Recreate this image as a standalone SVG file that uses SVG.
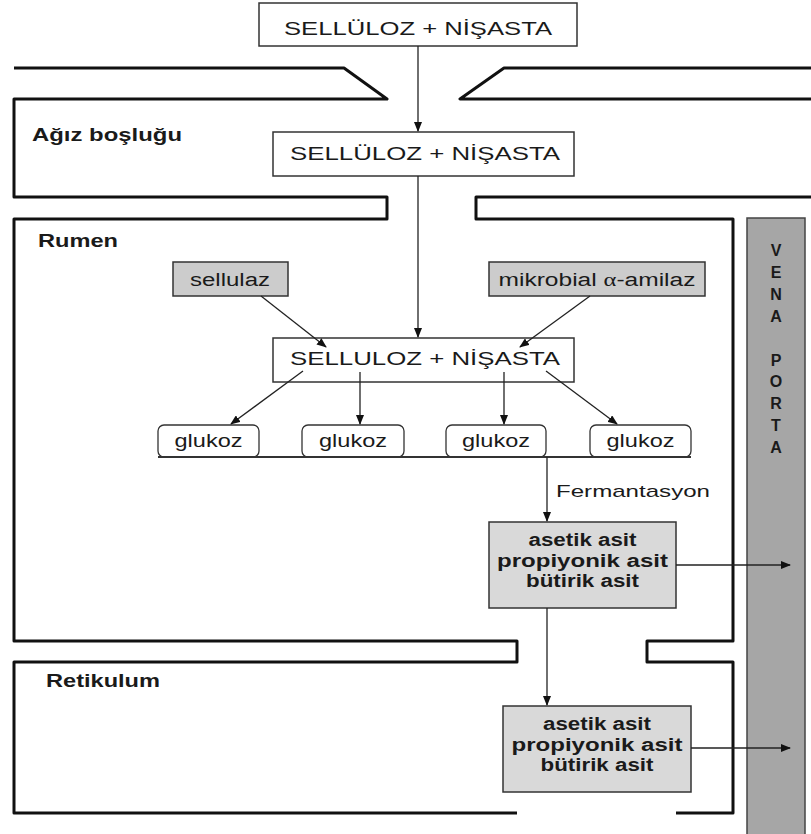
<svg xmlns="http://www.w3.org/2000/svg" width="811" height="834" viewBox="0 0 811 834">
<defs>
<marker id="ah" markerWidth="10" markerHeight="8" refX="9" refY="4" orient="auto" markerUnits="userSpaceOnUse">
<path d="M0,0 L10,4 L0,8 Z" fill="#111"/>
</marker>
<style>
.wall{fill:none;stroke:#111;stroke-width:3;stroke-linejoin:round;stroke-linecap:butt}
.box{fill:#fff;stroke:#333;stroke-width:1.5}
.enz{fill:#cccccc;stroke:#333;stroke-width:1.5}
.acid{fill:#d9d9d9;stroke:#333;stroke-width:1.5}
.glu{fill:#fff;stroke:#333;stroke-width:1.3}
.con{fill:none;stroke:#222;stroke-width:1.3;marker-end:url(#ah)}
.t{font-family:"Liberation Sans",Arial,sans-serif;fill:#1a1a1a}
.big{font-size:18px;text-anchor:middle}
.mid{font-size:18px;text-anchor:middle}
.acidt{font-size:18px;font-weight:bold;text-anchor:middle}
.lab{font-size:18px;font-weight:bold}
.vp{font-size:16px;font-weight:bold;text-anchor:middle}
</style>
</defs>
<rect width="811" height="834" fill="#fff"/>

<g id="walls">
<polyline class="wall" points="14,68 344,68 387,99 14,99 14,197 387,197 387,219 14,219 14,641 517,641 517,662 14,662 14,813 517,813"/>
<polyline class="wall" points="811,68 504,68 460,99 811,99"/>
<polyline class="wall" points="811,197 476,197 476,219 733,219 733,641 647,641 647,662 733,662 733,813 676,813"/>
</g>

<g id="vena-porta">
<rect x="747" y="218" width="58" height="620" fill="#a6a6a6" stroke="#444" stroke-width="1.5"/>
<text class="t vp" x="776" y="256">V</text>
<text class="t vp" x="776" y="278">E</text>
<text class="t vp" x="776" y="300">N</text>
<text class="t vp" x="776" y="322">A</text>
<text class="t vp" x="776" y="366">P</text>
<text class="t vp" x="776" y="387">O</text>
<text class="t vp" x="776" y="409">R</text>
<text class="t vp" x="776" y="431">T</text>
<text class="t vp" x="776" y="453">A</text>
</g>

<g id="labels">
<text class="t lab" x="32" y="141" textLength="150" lengthAdjust="spacingAndGlyphs">Ağız boşluğu</text>
<text class="t lab" x="38" y="247" textLength="80" lengthAdjust="spacingAndGlyphs">Rumen</text>
<text class="t lab" x="46" y="687" font-size="17" textLength="114" lengthAdjust="spacingAndGlyphs">Retikulum</text>
<text class="t" x="556" y="497" font-size="17" textLength="154" lengthAdjust="spacingAndGlyphs">Fermantasyon</text>
</g>

<g id="n-top">
<rect class="box" x="259" y="3" width="318" height="43"/>
<text class="t big" x="418" y="35" textLength="268" lengthAdjust="spacingAndGlyphs">SELLÜLOZ + NİŞASTA</text>
</g>

<g id="n-mouth">
<rect class="box" x="273" y="132" width="301" height="44"/>
<text class="t big" x="425" y="160" textLength="270" lengthAdjust="spacingAndGlyphs">SELLÜLOZ + NİŞASTA</text>
</g>

<g id="n-sellulaz">
<rect class="enz" x="173" y="262" width="115" height="34"/>
<text class="t mid" x="230" y="286" textLength="80" lengthAdjust="spacingAndGlyphs">sellulaz</text>
</g>

<g id="n-amilaz">
<rect class="enz" x="489" y="262" width="216" height="34"/>
<text class="t mid" x="597" y="286" textLength="197" lengthAdjust="spacingAndGlyphs">mikrobial <tspan font-family="Liberation Serif,serif">α</tspan>-amilaz</text>
</g>

<g id="n-rumen">
<rect class="box" x="273" y="338" width="301" height="44"/>
<text class="t big" x="425" y="365" textLength="270" lengthAdjust="spacingAndGlyphs">SELLULOZ + NİŞASTA</text>
</g>

<g id="n-glukoz1">
<rect class="glu" x="158" y="425" width="101" height="32" rx="6"/>
<text class="t mid" x="208.5" y="447" textLength="68" lengthAdjust="spacingAndGlyphs">glukoz</text>
</g>
<g id="n-glukoz2">
<rect class="glu" x="302" y="425" width="102" height="32" rx="6"/>
<text class="t mid" x="353" y="447" textLength="68" lengthAdjust="spacingAndGlyphs">glukoz</text>
</g>
<g id="n-glukoz3">
<rect class="glu" x="446" y="425" width="100" height="32" rx="6"/>
<text class="t mid" x="496" y="447" textLength="68" lengthAdjust="spacingAndGlyphs">glukoz</text>
</g>
<g id="n-glukoz4">
<rect class="glu" x="590" y="425" width="101" height="32" rx="6"/>
<text class="t mid" x="640.5" y="447" textLength="68" lengthAdjust="spacingAndGlyphs">glukoz</text>
</g>

<g id="n-acids1">
<rect class="acid" x="489" y="522" width="187" height="86"/>
<text class="t acidt" x="582.5" y="546" textLength="108" lengthAdjust="spacingAndGlyphs">asetik asit</text>
<text class="t acidt" x="582.5" y="567" textLength="171" lengthAdjust="spacingAndGlyphs">propiyonik asit</text>
<text class="t acidt" x="582.5" y="587" textLength="113" lengthAdjust="spacingAndGlyphs">bütirik asit</text>
</g>

<g id="n-acids2">
<rect class="acid" x="503" y="706" width="188" height="86"/>
<text class="t acidt" x="597" y="730" textLength="108" lengthAdjust="spacingAndGlyphs">asetik asit</text>
<text class="t acidt" x="597" y="751" textLength="171" lengthAdjust="spacingAndGlyphs">propiyonik asit</text>
<text class="t acidt" x="597" y="771" textLength="113" lengthAdjust="spacingAndGlyphs">bütirik asit</text>
</g>

<g id="connectors">
<line class="con" x1="418" y1="46" x2="418" y2="131"/>
<line class="con" x1="418" y1="176" x2="418" y2="337"/>
<line class="con" x1="261" y1="296" x2="326" y2="347"/>
<line class="con" x1="590" y1="296" x2="520" y2="347"/>
<line class="con" x1="303" y1="371" x2="231" y2="424"/>
<line class="con" x1="360" y1="372" x2="360" y2="424"/>
<line class="con" x1="504" y1="372" x2="504" y2="424"/>
<line class="con" x1="546" y1="371" x2="617" y2="424"/>
<line x1="158" y1="457" x2="691" y2="457" stroke="#333" stroke-width="2"/>
<line class="con" x1="547" y1="457" x2="547" y2="521"/>
<line class="con" x1="547" y1="608" x2="547" y2="705"/>
<line class="con" x1="676" y1="565" x2="790" y2="565"/>
<line class="con" x1="691" y1="748" x2="790" y2="748"/>
</g>
</svg>
